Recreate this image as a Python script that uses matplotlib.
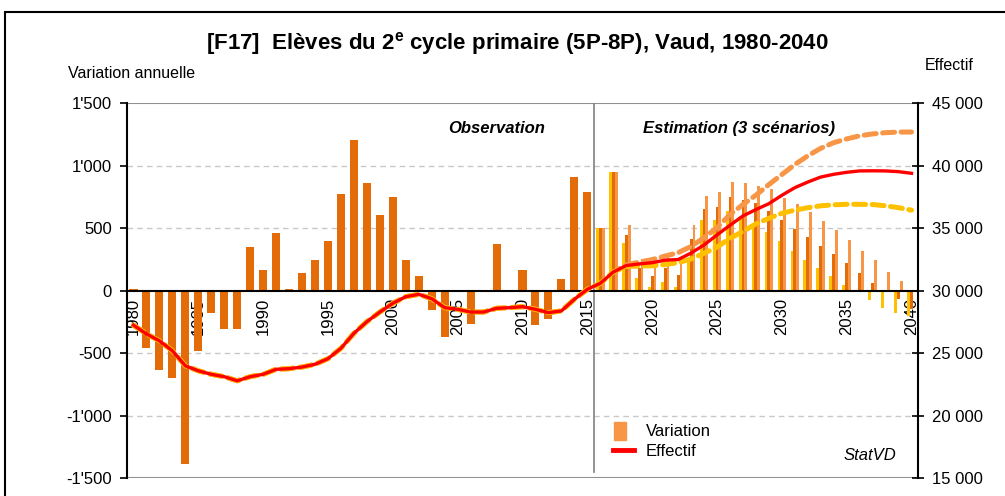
import matplotlib
matplotlib.use('Agg')
import matplotlib.pyplot as plt
import matplotlib.patches as mpatches
from matplotlib.lines import Line2D
from matplotlib.legend_handler import HandlerPatch
from matplotlib.ticker import FuncFormatter
import numpy as np

plt.rcParams['font.family'] = ['Liberation Sans', 'DejaVu Sans']
plt.rcParams['mathtext.fontset'] = 'custom'
plt.rcParams['mathtext.rm'] = 'Liberation Sans'
plt.rcParams['mathtext.bf'] = 'Liberation Sans:bold'

# observed period
years_obs = np.arange(1980, 2016)
var_obs = [15, -456, -637, -701, -1383, -483, -174, -303, -303, 352,
           167, 465, 15, 143, 247, 401, 771, 1206, 860, 605,
           747, 247, 118, -153, -371, 0, -268, 0, 376, 10,
           167, -274, -228, 94, 908, 787]
eff_obs = [27250, 26550, 26000, 25200, 24000, 23600, 23320, 23130, 22800, 23130,
           23320, 23720, 23770, 23900, 24120, 24570, 25400, 26600, 27530, 28300,
           29000, 29530, 29720, 29370, 28650, 28520, 28300, 28300, 28600, 28650,
           28730, 28520, 28250, 28390, 29320, 30120]

# estimation, 3 scenarios
years_est = np.arange(2016, 2041)
var_low = [505, 950, 379, 105, 30, 73, 30, 251, 563, 563,
           637, 597, 540, 469, 397, 318, 243, 180, 118, 44,
           -5, -73, -134, -174, -200]
var_mid = [505, 950, 443, 180, 118, 180, 126, 416, 658, 672,
           749, 726, 700, 637, 563, 496, 432, 358, 291, 219,
           140, 65, 0, -62, -148]
var_high = [505, 950, 523, 257, 257, 291, 211, 523, 757, 789,
            871, 865, 840, 815, 744, 696, 632, 557, 483, 406,
            318, 243, 153, 78, 10]
eff_mid = [30600, 31500, 32020, 32150, 32250, 32450, 32500, 33020, 33670, 34470,
           35240, 35990, 36500, 36970, 37640, 38250, 38700, 39100, 39320, 39480,
           39590, 39600, 39590, 39530, 39400]
eff_high = [30600, 31500, 32080, 32300, 32500, 32780, 33050, 33550, 34250, 35050,
            36100, 36900, 37650, 38500, 39300, 40100, 40800, 41400, 41850, 42150,
            42400, 42550, 42650, 42700, 42700]
eff_low = [30600, 31500, 31950, 31980, 32000, 32100, 32250, 32550, 33000, 33500,
           34200, 34750, 35350, 35800, 36200, 36450, 36650, 36800, 36880, 36920,
           36920, 36900, 36800, 36650, 36450]

c_dark = '#E36C09'
c_light = '#F79646'
c_yellow = '#FFC000'
c_red = '#FF0000'

fig = plt.figure(figsize=(10.05, 4.96), dpi=100)
ax = fig.add_axes([127/1005, 1-478.3/496, 791/1005, 375/496])
ax2 = ax.twinx()

# bars
ax.bar(years_obs, var_obs, width=0.62, color=c_dark, zorder=2)
w = 0.22
ax.bar(years_est - w, var_low, width=w, color=c_yellow, zorder=2)
ax.bar(years_est, var_mid, width=w, color=c_dark, zorder=2)
ax.bar(years_est + w, var_high, width=w, color=c_light, zorder=2)

# lines
all_years = np.concatenate([years_obs, years_est])
dash = (0, (2.4, 1.3))
ax2.plot(all_years, eff_obs + eff_high, color=c_light, lw=3.6, ls=dash,
         dash_capstyle='round', zorder=3)
ax2.plot(all_years, eff_obs + eff_low, color=c_yellow, lw=3.6, ls=dash,
         dash_capstyle='round', zorder=3)
ax2.plot(all_years, eff_obs + eff_mid, color=c_red, lw=2.4, zorder=4)

ax.set_xlim(1979.5, 2040.5)
ax.set_ylim(-1500, 1500)
ax2.set_ylim(15000, 45000)

ax.set_yticks(np.arange(-1500, 1501, 500))
ax2.set_yticks(np.arange(15000, 45001, 5000))
ax.yaxis.set_major_formatter(FuncFormatter(lambda v, p: f"{int(v):,}".replace(',', "'")))
ax2.yaxis.set_major_formatter(FuncFormatter(lambda v, p: f"{int(v):,}".replace(',', ' ')))

for v in [-1000, -500, 500, 1000]:
    ax.axhline(v, color='#C8C8C8', lw=1, ls=(0, (4, 3)), zorder=1)
ax.axhline(1500, color='#909090', lw=1.5, zorder=1)
ax.axhline(-1500, color='#909090', lw=1.5, zorder=1)

# separator between observation and estimation
split = years_obs[-1] + 0.5
ax.plot([split, split], [-1450, 1500], color='#808080', lw=1.2, zorder=1)

for s in ['top', 'bottom']:
    ax.spines[s].set_visible(False)
    ax2.spines[s].set_visible(False)
ax.spines['bottom'].set_visible(True)
ax.spines['bottom'].set_position(('data', 0))
ax.spines['bottom'].set_linewidth(1.5)
ax.spines['left'].set_linewidth(1.5)
ax2.spines['right'].set_linewidth(1.5)
ax2.spines['left'].set_visible(False)
ax.spines['right'].set_visible(False)

ax.set_xticks(np.arange(1980, 2041, 5))
ax.tick_params(axis='x', length=0, pad=5, labelsize=12, labelrotation=90)
ax.tick_params(axis='y', direction='out', length=5, width=1.2, labelsize=12, pad=6)
ax2.tick_params(axis='y', direction='inout', length=8, width=1.2, labelsize=12, pad=6)

ax.set_zorder(1)
ax2.set_zorder(2)

# texts
fig.text(0.515, 1-44/496, r"[F17]  Elèves du 2$^{\mathbf{e}}$ cycle primaire (5P-8P), Vaud, 1980-2040",
         ha='center', va='center', fontsize=16, fontweight='bold')
fig.text(68/1005, 1-74/496, "Variation annuelle", ha='left', va='center', fontsize=11.5)
fig.text(925/1005, 1-66/496, "Effectif", ha='left', va='center', fontsize=11.5)
ax.text(2008, 1300, "Observation", ha='center', va='center', fontsize=12,
        fontweight='bold', style='italic')
ax.text(2026.7, 1300, "Estimation (3 scénarios)", ha='center', va='center', fontsize=12,
        fontweight='bold', style='italic')
ax.text(2038.8, -1320, "StatVD", ha='right', va='center', fontsize=12, style='italic')


def narrow_patch(legend, orig_handle, xdescent, ydescent, width, height, fontsize):
    return mpatches.Rectangle((-xdescent + width * 0.05, -ydescent - height * 0.35),
                              width * 0.58, height * 1.6)


handles = [mpatches.Patch(color=c_light), Line2D([], [], color=c_red, lw=3.5)]
ax.legend(handles, ["Variation", "Effectif"], loc='upper left',
          bbox_to_anchor=(605/1005, 1-416/496), bbox_transform=fig.transFigure,
          frameon=False, fontsize=12, handlelength=1.25, handletextpad=0.7,
          labelspacing=0.25, borderpad=0,
          handler_map={mpatches.Patch: HandlerPatch(patch_func=narrow_patch)})

fig.patches.append(mpatches.Rectangle((5/1005, -0.1), 1.2, 1.1 - 12/496,
                                      transform=fig.transFigure, fill=False,
                                      ec='black', lw=1.5))

fig.savefig('out.png', dpi=100)
